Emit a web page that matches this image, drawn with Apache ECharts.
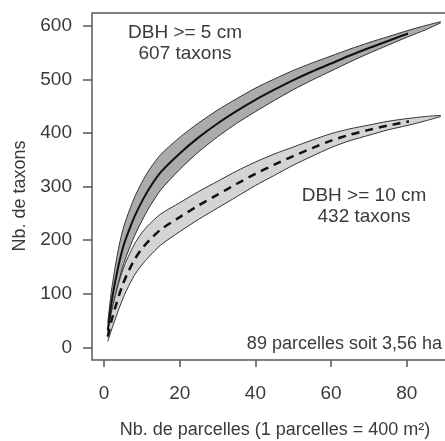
<!DOCTYPE html>
<html>
<head>
<meta charset="utf-8">
<script src="https://cdn.jsdelivr.net/npm/echarts@6/dist/echarts.min.js"></script>
<style>
html,body{margin:0;padding:0;background:#fff;}
#chart{width:445px;height:441px;}
</style>
</head>
<body>
<div id="chart"></div>
<script>
// Number of plots (x)
const xs = [1,2,3,4,5,6,8,10,12,15,20,25,30,35,40,45,50,55,60,65,70,75,80,85,89];
// DBH >= 5 cm : mean curve and confidence band
const dbh5Mean  = [32,85,124,158,186,207,243,272,297,327,362,392,418,441,462,481,499,515,530,545,559,572,585,597,607];
const dbh5Lower = [18,63,96,126,152,172,207,236,262,294,332,365,393,418,440,461,481,499,516,533,549,564,579,593,606];
const dbh5Upper = [46,107,152,190,220,242,279,308,332,360,392,419,443,464,484,501,517,531,544,557,569,580,591,601,608];
// DBH >= 10 cm : mean curve and confidence band
const dbh10Mean  = [20,50,75,98,118,135,163,184,200,220,243,265,285,305,324,341,357,372,386,397,406,414,421,427,432];
const dbh10Lower = [11,33,53,73,91,107,134,154,170,191,216,239,260,281,302,321,340,357,373,386,396,406,414,423,431];
const dbh10Upper = [29,67,97,123,145,163,192,214,230,249,270,291,310,329,346,361,374,387,399,408,415,422,427,431,433];
// Axis ranges (ticks every 20 on x, every 100 on y)
const xMin = 0, xMax = 80, xStep = 20;
const yMin = 0, yMax = 600, yStep = 100;

const FONT = '"Liberation Sans", Arial, sans-serif';
const TXT = '#3a3a3a';

function pairs(x, y){ return x.map((v,i)=>[v, y[i]]); }

function bandSeries(lower, upper, fill){
  return {
    type: 'custom',
    silent: true,
    clip: false,
    z: 2,
    data: [[xs[0], lower[0]]],
    encode: {x: 0, y: 1},
    renderItem: function(params, api){
      const top = xs.map((x,i)=>api.coord([x, upper[i]]));
      const bot = xs.map((x,i)=>api.coord([x, lower[i]]));
      const poly = top.concat(bot.slice().reverse());
      return {
        type: 'group',
        children: [
          {type:'polygon', shape:{points: poly}, style:{fill: fill, stroke: 'none'}},
          {type:'polyline', shape:{points: top, smooth: 0.25}, style:{fill:'none', stroke:'#333', lineWidth:1}},
          {type:'polyline', shape:{points: bot, smooth: 0.25}, style:{fill:'none', stroke:'#333', lineWidth:1}}
        ]
      };
    }
  };
}

const chart = echarts.init(document.getElementById('chart'), null, {renderer:'canvas'});
chart.setOption({
  animation: false,
  backgroundColor: '#fff',
  grid: {left: 104, top: 26, width: 302.8, height: 321.3, show: false},
  xAxis: {
    type: 'value', min: xMin, max: xMax, interval: xStep, offset: 12.7,
    axisLine: {show: false, onZero: false},
    splitLine: {show: false},
    axisTick: {show: true, inside: false, length: 7, lineStyle: {color: '#555', width: 1.5}},
    axisLabel: {margin: 24, fontSize: 19, color: TXT, fontFamily: FONT}
  },
  yAxis: {
    type: 'value', min: yMin, max: yMax, interval: yStep, offset: 12,
    axisLine: {show: false, onZero: false},
    splitLine: {show: false},
    axisTick: {show: true, inside: false, length: 9, lineStyle: {color: '#555', width: 1.5}},
    axisLabel: {margin: 20, fontSize: 19, color: TXT, fontFamily: FONT}
  },
  series: [
    bandSeries(dbh5Lower, dbh5Upper, '#ababab'),
    bandSeries(dbh10Lower, dbh10Upper, '#d4d4d4'),
    {
      type: 'line', name: 'DBH >= 5 cm', data: pairs(xs, dbh5Mean), smooth: 0.25, clip: false,
      symbol: 'none', z: 3, lineStyle: {color: '#111', width: 2}
    },
    {
      type: 'line', name: 'DBH >= 10 cm', data: pairs(xs, dbh10Mean), smooth: 0.25, clip: false,
      symbol: 'none', z: 3, lineStyle: {color: '#111', width: 2.5, type: [8, 6]}
    }
  ],
  graphic: [
    {type:'rect', x: 92, y: 13, shape:{width: 380, height: 347}, style:{fill:'none', stroke:'#5a5a5a', lineWidth:1.5}, z: 10},
    {type:'text', x: 20, y: 196, rotation: Math.PI/2, style:{text:'Nb. de taxons', fontSize:18, fontFamily:FONT, fill:TXT, textAlign:'center', textVerticalAlign:'middle'}},
    {type:'text', x: 275, y: 430, style:{text:'Nb. de parcelles (1 parcelles = 400 m²)', fontSize:18, fontFamily:FONT, fill:TXT, textAlign:'center', textVerticalAlign:'middle'}},
    {type:'text', x: 185, y: 33, style:{text:'DBH >= 5 cm', fontSize:19, fontFamily:FONT, fill:TXT, textAlign:'center', textVerticalAlign:'middle'}},
    {type:'text', x: 185, y: 54, style:{text:'607 taxons', fontSize:19, fontFamily:FONT, fill:TXT, textAlign:'center', textVerticalAlign:'middle'}},
    {type:'text', x: 364, y: 196, style:{text:'DBH >= 10 cm', fontSize:19, fontFamily:FONT, fill:TXT, textAlign:'center', textVerticalAlign:'middle'}},
    {type:'text', x: 364, y: 217, style:{text:'432 taxons', fontSize:19, fontFamily:FONT, fill:TXT, textAlign:'center', textVerticalAlign:'middle'}},
    {type:'text', x: 442, y: 344, style:{text:'89 parcelles soit 3,56 ha', fontSize:18, fontFamily:FONT, fill:TXT, textAlign:'right', textVerticalAlign:'middle'}}
  ]
});
</script>
</body>
</html>
